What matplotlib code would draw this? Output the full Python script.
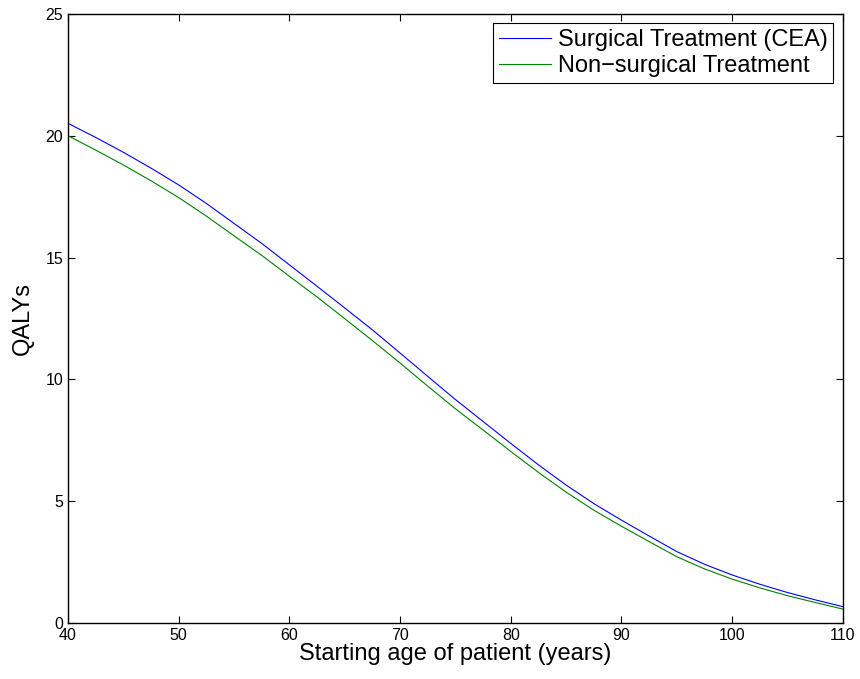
import matplotlib.pyplot as plt
import numpy as np

plt.rcParams['font.family'] = ['Liberation Sans', 'DejaVu Sans']

# starting age of patient (years)
AGE = [40, 42.5, 45, 47.5, 50, 52.5, 55, 57.5, 60, 62.5, 65, 67.5, 70, 72.5, 75,
       77.5, 80, 82.5, 85, 87.5, 90, 92.5, 95, 97.5, 100, 102.5, 105, 107.5, 110]

# QALYs, surgical treatment (CEA)
QALY_SURG = [20.51, 19.93, 19.32, 18.67, 17.98, 17.22, 16.40, 15.58, 14.70, 13.82,
             12.93, 12.03, 11.08, 10.12, 9.17, 8.27, 7.37, 6.49, 5.66, 4.90,
             4.22, 3.57, 2.93, 2.41, 1.97, 1.59, 1.25, 0.95, 0.67]

# QALYs, non-surgical treatment
QALY_NONSURG = [20.00, 19.41, 18.80, 18.15, 17.46, 16.70, 15.89, 15.09, 14.23, 13.38,
                12.49, 11.59, 10.67, 9.72, 8.79, 7.92, 7.04, 6.18, 5.37, 4.63,
                3.97, 3.34, 2.72, 2.22, 1.80, 1.44, 1.12, 0.84, 0.57]

fig = plt.figure(figsize=(8.6, 6.79), dpi=100)
ax = fig.add_axes([0.0791, 0.0825, 0.901, 0.897])

ax.plot(AGE, QALY_SURG, color='#0000ff', linewidth=0.8, label='Surgical Treatment (CEA)')
ax.plot(AGE, QALY_NONSURG, color='#008000', linewidth=0.8, label='Non\u2212surgical Treatment')

ax.set_xlim(40, 110)
ax.set_ylim(0, 25)
ax.set_xticks(np.arange(40, 111, 10))
ax.set_yticks(np.arange(0, 26, 5))
ax.tick_params(direction='in', top=True, right=True, length=5, width=0.8, labelsize=11.5)
for sp in ax.spines.values():
    sp.set_linewidth(1.0)

ax.set_xlabel('Starting age of patient (years)', fontsize=17, labelpad=0)
ax.set_ylabel('QALYs', fontsize=17, labelpad=8)

leg = ax.legend(loc='upper right', fontsize=17, frameon=True, fancybox=False,
                borderaxespad=0.4, handlelength=2.2, handletextpad=0.27,
                labelspacing=0.15, borderpad=0.25)
leg.get_frame().set_edgecolor('black')
leg.get_frame().set_linewidth(0.8)
leg.get_frame().set_alpha(1)

fig.savefig('out.png', dpi=100)
